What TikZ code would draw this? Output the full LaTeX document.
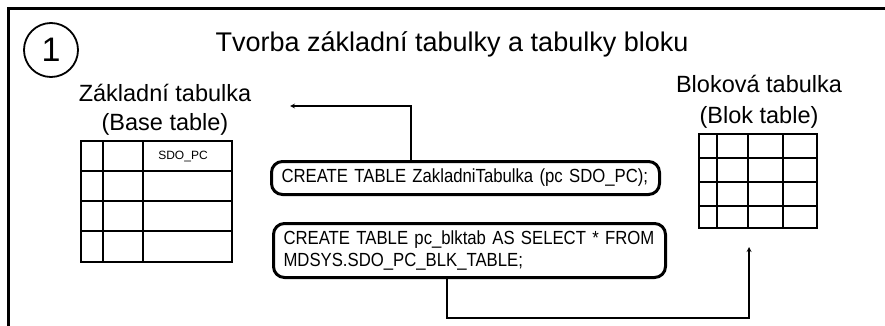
\documentclass[tikz,border=0pt]{standalone}
\usepackage{fontspec}
\setmainfont{Liberation Sans}
\newfontfamily\sqlfont[FakeStretch=0.88]{Liberation Sans}
\usetikzlibrary{arrows, positioning}

\begin{document}
\begin{tikzpicture}[x=1pt, y=-1pt,
    caption/.style={anchor=base, inner sep=0pt, font=\fontsize{23.5}{28}\selectfont},
    sqlbox/.style={rectangle, draw, line width=3pt, rounded corners=11pt,
        anchor=north west, align=left, inner xsep=10pt, inner ysep=0pt,
        font=\sqlfont\fontsize{19}{22}\selectfont},
    tabline/.style={line width=1.8pt},
    link/.style={->, >=stealth, line width=1.2pt}]
    \useasboundingbox (0,0) rectangle (885,326);

    % frame (top and left only)
    \draw[line width=3pt] (8,326) |- (885,9);

    \node[circle, draw, line width=1.8pt, minimum size=54pt, inner sep=0pt,
        font=\fontsize{34}{40}\selectfont] (num) at (51,50) {1};
    \node[caption, font=\fontsize{27}{32}\selectfont] (title) at (452,52)
        {Tvorba základní tabulky a tabulky bloku};

    % base table
    \node[caption] (base_name) at (165,102) {Základní tabulka};
    \node[caption] (base_en) at (165,131) {(Base table)};
    \draw[tabline] (81,141) rectangle (232,262);
    \foreach \x in {103,143}
        \draw[tabline] (\x,141) -- (\x,262);
    \foreach \y in {171,201,231}
        \draw[tabline] (81,\y) -- (232,\y);
    \node[anchor=base, inner sep=0pt, font=\fontsize{12}{14}\selectfont] (base_col) at (183,159) {SDO\_PC};

    % block table
    \node[caption] (blok_name) at (759,93) {Bloková tabulka};
    \node[caption] (blok_en) at (759,123) {(Blok table)};
    \draw[tabline] (699,134) rectangle (817,228);
    \foreach \x in {717,748,783}
        \draw[tabline] (\x,134) -- (\x,228);
    \foreach \y in {158,182,206}
        \draw[tabline] (699,\y) -- (817,\y);

    % statements
    \node[sqlbox, text width=368pt, minimum height=33pt] (create_base) at (270,160)
        {CREATE TABLE ZakladniTabulka (pc SDO\_PC);};
    \node[sqlbox, text width=372pt, minimum height=54pt] (create_blok) at (272,222)
        {CREATE TABLE pc\_blktab AS SELECT * FROM\\ MDSYS.SDO\_PC\_BLK\_TABLE;};

    \coordinate (base_tip) at (290,106);
    \coordinate (blok_tip) at (749,247);

    \draw[link] ([xshift=141pt]create_base.north west) |- (base_tip);
    \draw[link] ([xshift=175pt]create_blok.south west) -- ++(0,39) -| (blok_tip);

\end{tikzpicture}
\end{document}
